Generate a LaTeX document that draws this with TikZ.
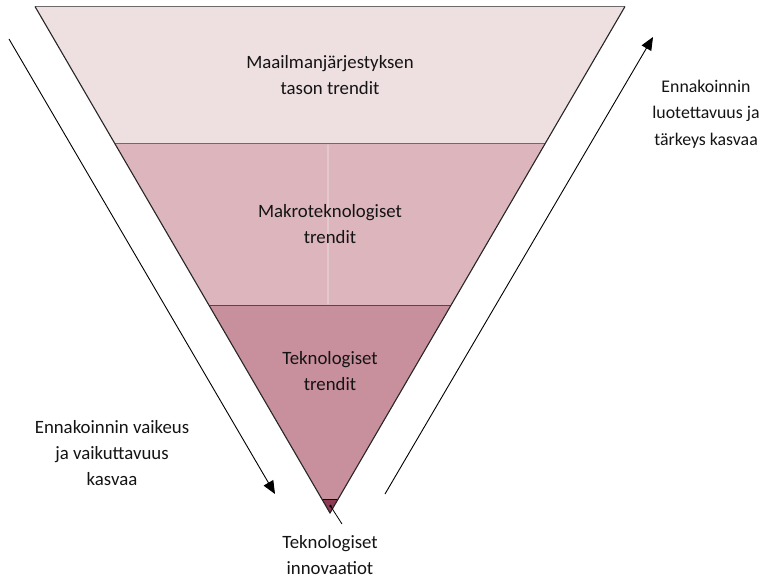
\documentclass[tikz,border=0pt]{standalone}
\usepackage{fontspec}
\setmainfont{Carlito}
\usetikzlibrary{calc,arrows.meta}
\definecolor{bandtop}{HTML}{EEDFE1}
\definecolor{bandmid}{HTML}{DCB5BD}
\definecolor{bandlow}{HTML}{C88F9C}
\definecolor{bandtip}{HTML}{8E3A55}
\definecolor{sepgray}{HTML}{6B6B6B}
\tikzset{
  sepline/.style={draw=sepgray,line width=1.8pt},
  sideline/.style={draw=black!85,line width=1.1pt},
  label/.style={align=center,font=\fontsize{18.8}{26.3}\selectfont,text=black!92},
  trend/.style={-{Triangle[length=13pt,width=11pt]},line width=0.9pt,black},
}
\begin{document}
\begin{tikzpicture}[x=1pt,y=-1pt]
\useasboundingbox (0,0) rectangle (764,578);
% outline of the funnel
\coordinate (TL) at (35,6.5);
\coordinate (TR) at (625,6.5);
\coordinate (AP) at (330,513);
\coordinate (L1) at ($(TL)!0.2705!(AP)$);
\coordinate (R1) at ($(TR)!0.2705!(AP)$);
\coordinate (L2) at ($(TL)!0.5903!(AP)$);
\coordinate (R2) at ($(TR)!0.5903!(AP)$);
\coordinate (L3) at ($(TL)!0.9724!(AP)$);
\coordinate (R3) at ($(TR)!0.9724!(AP)$);
% bands
\fill[bandtop] (TL) -- (TR) -- (R1) -- (L1) -- cycle;
\fill[bandmid] (L1) -- (R1) -- (R2) -- (L2) -- cycle;
\fill[bandlow] (L2) -- (R2) -- (R3) -- (L3) -- cycle;
\fill[bandtip] (L3) -- (R3) -- (AP) -- cycle;
% faint seam in the middle band
\draw[white!75!bandmid,line width=0.8pt] ($(L1)!0.5!(R1)+(-2,1)$) -- ($(L2)!0.5!(R2)+(-2,-1)$);
% separators
\draw[sepline] (TL) -- (TR);
\draw[sepline] (L1) -- (R1);
\draw[draw=black!70,line width=1.2pt] (L2) -- (R2);
\draw[draw=black,line width=1pt] (L3) -- (R3);
% sides
\draw[sideline] (TL) -- (AP) -- (TR);
% labels inside
\node[label] (world) at (330,75) {Maailmanjärjestyksen\\tason trendit};
\node[label] (macro) at (330,224) {Makroteknologiset\\trendit};
\node[label] (tech) at (330,371) {Teknologiset\\trendit};
\node[label] (innov) at (330,555) {Teknologiset\\innovaatiot};
% side notes
\node[label] (hard) at (112,453) {Ennakoinnin vaikeus\\ja vaikuttavuus\\kasvaa};
\node[label,font=\fontsize{17.8}{26.3}\selectfont] (reliab) at (706,114) {Ennakoinnin\\luotettavuus ja\\tärkeys kasvaa};
% leader from the innovation tip
\fill (330.5,506) circle (1.4pt) coordinate (dot);
\coordinate (leadend) at (342,524);
\draw[line width=0.8pt] (dot) -- (leadend);
% trend arrows
\coordinate (a1s) at (9,39);
\coordinate (a1e) at (275,494);
\coordinate (a2s) at (385,494);
\coordinate (a2e) at (653,37);
\draw[trend] (a1s) -- (a1e);
\draw[trend] (a2s) -- (a2e);
\end{tikzpicture}
\end{document}
